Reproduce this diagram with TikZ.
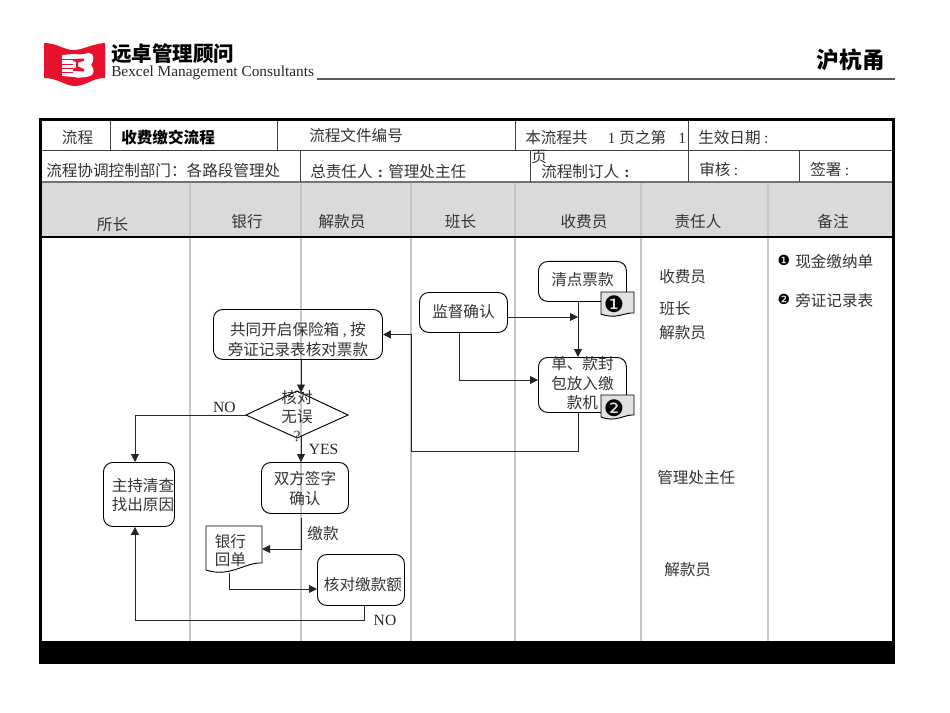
\documentclass[tikz,border=0pt]{standalone}
\usepackage{fontspec}
\setmainfont{Liberation Serif}
\newfontfamily\cjk{Noto Sans CJK SC}
\newfontfamily\sym{DejaVu Sans}
\usetikzlibrary{arrows.meta}
\definecolor{logored}{HTML}{E8112D}
\definecolor{hdrgray}{HTML}{DADADA}
\definecolor{collane}{HTML}{C6C6C6}
\newcommand{\wcolon}{\makebox[11.7pt]{\rmfamily\bfseries :}}
\tikzset{
  txt/.style={inner sep=0pt,anchor=center,yshift=-0.5pt,font=\fontsize{11.7pt}{14pt}\selectfont\cjk,text=black!80,align=center},
  ltxt/.style={txt,anchor=west,align=left},
  lat/.style={inner sep=0pt,anchor=center,font=\fontsize{11.7pt}{13pt}\selectfont,text=black!85},
  boxn/.style={draw=black,line width=0.7pt,rounded corners=7pt,inner sep=0pt,anchor=north west},
  boxt/.style={txt,font=\fontsize{11.7pt}{14.6pt}\selectfont\cjk},
  sz/.style 2 args={minimum width=#1*0.75pt,minimum height=#2*0.75pt},
  flow/.style={draw=black!85,line width=0.7pt,-{Triangle[length=6pt,width=6pt]}},
  grid/.style={draw=black!75,line width=0.7pt},
  lane/.style={draw=collane,line width=0.8pt},
  docs/.style={draw=black,line width=0.7pt}
}
\begin{document}
\begin{tikzpicture}[x=0.75pt,y=-0.75pt]
\useasboundingbox (0,0) rectangle (950,713);
% logo
\fill[logored] (44,43) .. controls (58,43) and (65,51) .. (75,50) .. controls (85,49) and (92,44) .. (105,43)
  -- (105,78) .. controls (92,78) and (86,86) .. (75,86) .. controls (65,86) and (58,78) .. (44,78) -- cycle;
\fill[white] (62,55) -- (74,54) .. controls (80,55) and (84,54) .. (89,53) .. controls (94,53) and (95,60) .. (91,65) .. controls (95,69) and (94,75) .. (90,76) .. controls (84,78) and (76,78) .. (74,77) -- (62,76) -- cycle;
\foreach \yy in {59.5,64,68.5,72.5} \draw[logored,line width=0.7pt] (62,\yy) -- (73,\yy);
\fill[logored] (73,59) -- (84,58.5) -- (84,61) -- (78,62.5) -- (78,66.5) -- (84,69) -- (84,71.5) -- (73,71) -- (73,69) -- (76,67.5) -- (76,62) -- (73,61) -- cycle;
\node[inner sep=0pt,anchor=west,font=\fontsize{15.4pt}{15pt}\selectfont\cjk\bfseries] (lgcn) at (111,54) {远卓管理顾问};
\node[inner sep=0pt,anchor=west,font=\fontsize{11.5pt}{12pt}\selectfont,text=black!85] (lgen) at (111,73) {Bexcel Management Consultants};
\draw[draw=black!65,line width=0.8pt] (317,79) -- (895,79);
\node[inner sep=0pt,anchor=east,font=\fontsize{17pt}{17pt}\selectfont\cjk\bfseries] (route) at (885,60) {沪杭甬};
% table
\fill[hdrgray] (39,182) rectangle (895,237);
\fill[black] (39,641) rectangle (895,664);
\foreach \x in {190,301,411,515,641,768} \draw[lane] (\x,182) -- (\x,641);
\draw[grid] (39,150) -- (895,150);
\draw[grid,draw=black!55,line width=0.9pt] (39,182) -- (895,182);
\draw[draw=black,line width=0.8pt] (39,237) -- (895,237);
\foreach \x in {110,277,515,688} \draw[grid] (\x,118) -- (\x,150);
\foreach \x in {300,530,688,799} \draw[grid] (\x,150) -- (\x,182);
\draw[draw=black,line width=2.2pt] (40.5,119.5) rectangle (893.5,662.5);
% table text
\node[txt] (t1) at (77.5,137) {流程};
\node[ltxt,font=\fontsize{11.7pt}{13pt}\selectfont\cjk\bfseries,text=black] (t2) at (121,137) {收费缴交流程};
\node[ltxt] (t3) at (309,135) {流程文件编号};
\node[ltxt] (t4) at (525,137) {本流程共\hspace{15pt}{\rmfamily 1}\hspace{3pt}页之第\hspace{9pt}{\rmfamily 1}};
\node[ltxt] (t5) at (698,137) {生效日期 {\rmfamily :}};
\node[ltxt] (t6) at (46,170) {流程协调控制部门\makebox[11.7pt][l]{：}各路段管理处};
\node[ltxt] (t7) at (310,171) {总责任人\wcolon 管理处主任};
\node[ltxt] (t8) at (531,156) {页};
\node[ltxt] (t9) at (541,171) {流程制订人\wcolon};
\node[ltxt] (t10) at (699,169) {审核 {\rmfamily :}};
\node[ltxt] (t11) at (810,169) {签署 {\rmfamily :}};
\node[txt] (h1) at (112.5,224) {所长};
\node[txt] (h2) at (247,221) {银行};
\node[txt] (h3) at (342,221) {解款员};
\node[txt] (h4) at (460.5,221) {班长};
\node[txt] (h5) at (584,221) {收费员};
\node[txt] (h6) at (698,221) {责任人};
\node[txt] (h7) at (833,221) {备注};
% responsible
\node[ltxt] (r1) at (659,276) {收费员};
\node[ltxt] (r2) at (659,308) {班长};
\node[ltxt] (r3) at (659,332) {解款员};
\node[ltxt] (r4) at (657,477) {管理处主任};
\node[ltxt] (r5) at (664,569) {解款员};
% notes
\node[inner sep=0pt,font=\fontsize{10.5pt}{10pt}\selectfont\sym] (n1b) at (784,260) {❶};
\node[ltxt] (n1) at (795,261) {现金缴纳单};
\node[inner sep=0pt,font=\fontsize{10.5pt}{10pt}\selectfont\sym] (n2b) at (784,299) {❷};
\node[ltxt] (n2) at (795,300) {旁证记录表};
% flow nodes
\node[boxn,sz={88}{40},label={[boxt,yshift=2.2pt,name=qdt]center:清点票款}] (qd) at (538,261) {};
\node[boxn,sz={88}{40},label={[boxt,yshift=1.5pt,name=jdt]center:监督确认}] (jd) at (419,292) {};
\node[boxn,sz={88}{55},label={[boxt,yshift=1.9pt,name=dft]center:单、款封\\包放入缴\\款机}] (df) at (538,357) {};
\node[boxn,sz={169}{50},label={[boxt,yshift=-3.4pt,name=gtt]center:共同开启保险箱 {\rmfamily ,} 按\\旁证记录表核对票款}] (gt) at (213,309) {};
\draw[draw=black,line width=0.7pt] (246,415) -- (297,391) -- (348,415) -- (297,438) -- cycle;
\coordinate (dtop) at (301,392.5);
\coordinate (dbot) at (301,436);
\coordinate (dleft) at (246,415);
\node[txt] (dt) at (297,415.5) {\fontsize{11.7pt}{14.6pt}\selectfont 核对\\无误\\{\rmfamily ?}};
\node[boxn,sz={71}{64},label={[boxt,xshift=3pt,name=zct]center:主持清查\\找出原因}] (zc) at (103,462) {};
\node[boxn,sz={87}{51},label={[boxt,name=sft]center:双方签字\\确认}] (sf) at (261,462) {};
\node[boxn,sz={87}{51},label={[boxt,xshift=1.5pt,yshift=-2.6pt,name=hdt]center:核对缴款额}] (hd) at (317,554) {};
% documents
\path[docs,fill=hdrgray!80] (601,292) -- (634,292) -- (634,313) .. controls (625,312) and (616,320) .. (601,314) -- cycle;
\node[inner sep=0pt,font=\fontsize{17pt}{17pt}\selectfont\sym] (b1) at (614,304) {❶};
\path[docs,fill=hdrgray!80] (601,395) -- (634,395) -- (634,415) .. controls (625,414) and (616,423) .. (601,417) -- cycle;
\node[inner sep=0pt,font=\fontsize{17pt}{17pt}\selectfont\sym] (b2) at (614,408) {❷};
\path[docs] (206,526) -- (262,526) -- (262,563) .. controls (245,562) and (230,578) .. (206,570) -- cycle;
\coordinate (yhr) at (262,549);
\coordinate (yhb) at (229.5,572.5);
\node[ltxt] (yh) at (214.5,550) {\fontsize{11.7pt}{18.5pt}\selectfont 银行\\回单};
% labels
\node[lat] (no1) at (224.5,407) {NO};
\node[lat] (yes) at (323.5,449) {YES};
\node[lat] (no2) at (385,620.5) {NO};
\node[txt] (jk) at (323,533) {缴款};
% connectors
\coordinate (qm) at (578,317);
\draw[flow] (qd.south -| qm) -- (qm |- df.north);
\draw[flow] (jd.east |- qm) -- (qm);
\coordinate (jb) at (459,380);
\draw[flow] (jd.south -| jb) |- (df.west |- jb);
\coordinate (lk) at (411,451);
\draw[flow] (df.south -| qm) |- (lk) |- (gt.east);
\draw[flow] (gt.south -| dtop) -- (dtop);
\draw[flow] (dbot) -- (sf.north -| dbot);
\coordinate (mq) at (135,415);
\draw[flow] (dleft) -- (mq) -- (mq |- zc.north);
\coordinate (js) at (301,518);
\draw[flow] (js) |- (yhr);
\coordinate (hb) at (230,589);
\draw[flow] (yhb) |- (hd.west |- hb);
\coordinate (ret) at (364,620);
\draw[flow] (hd.south -| ret) -- (ret) -| (mq |- zc.south);
\end{tikzpicture}
\end{document}
